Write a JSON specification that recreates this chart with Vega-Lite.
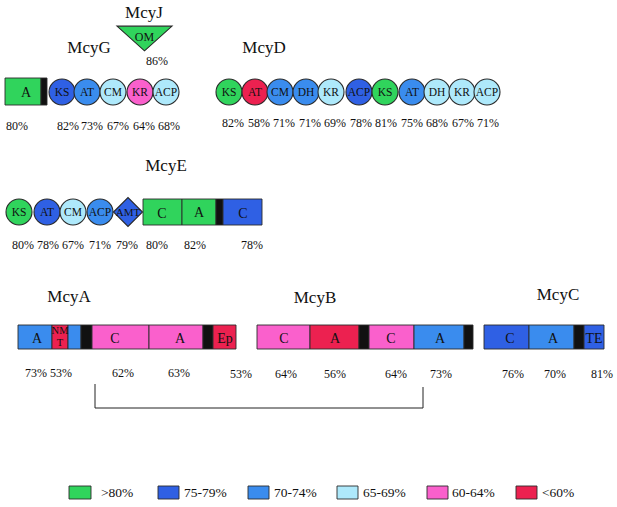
{
  "$schema": "https://vega.github.io/schema/vega-lite/v6.json",
  "width": 617,
  "height": 507,
  "padding": 0,
  "autosize": {"type": "none"},
  "background": "white",
  "config": {"view": {"stroke": null}, "text": {"font": "Liberation Serif", "color": "#111"}},
  "datasets": {
    "boxes": [
      {"x": 5, "x2": 41, "y": 78, "y2": 105, "c": ">80%"},
      {"x": 41, "x2": 47, "y": 78, "y2": 105, "c": "black"},
      {"x": 143, "x2": 182, "y": 199, "y2": 225, "c": ">80%"},
      {"x": 182, "x2": 216, "y": 199, "y2": 225, "c": ">80%"},
      {"x": 216, "x2": 223, "y": 199, "y2": 225, "c": "black"},
      {"x": 223, "x2": 262, "y": 199, "y2": 225, "c": "75-79%"},
      {"x": 18, "x2": 52, "y": 325, "y2": 349, "c": "70-74%"},
      {"x": 52, "x2": 68, "y": 325, "y2": 349, "c": "<60%"},
      {"x": 68, "x2": 81, "y": 325, "y2": 349, "c": "70-74%"},
      {"x": 81, "x2": 92, "y": 325, "y2": 349, "c": "black"},
      {"x": 92, "x2": 149, "y": 325, "y2": 349, "c": "60-64%"},
      {"x": 149, "x2": 203, "y": 325, "y2": 349, "c": "60-64%"},
      {"x": 203, "x2": 213, "y": 325, "y2": 349, "c": "black"},
      {"x": 213, "x2": 236, "y": 325, "y2": 349, "c": "<60%"},
      {"x": 257, "x2": 310, "y": 325, "y2": 349, "c": "60-64%"},
      {"x": 310, "x2": 359, "y": 325, "y2": 349, "c": "<60%"},
      {"x": 359, "x2": 369, "y": 325, "y2": 349, "c": "black"},
      {"x": 369, "x2": 414, "y": 325, "y2": 349, "c": "60-64%"},
      {"x": 414, "x2": 464, "y": 325, "y2": 349, "c": "70-74%"},
      {"x": 464, "x2": 473, "y": 325, "y2": 349, "c": "black"},
      {"x": 484, "x2": 529, "y": 325, "y2": 349, "c": "75-79%"},
      {"x": 529, "x2": 574, "y": 325, "y2": 349, "c": "70-74%"},
      {"x": 574, "x2": 584, "y": 325, "y2": 349, "c": "black"},
      {"x": 584, "x2": 604, "y": 325, "y2": 349, "c": "75-79%"},
      {"x": 69, "x2": 91, "y": 486, "y2": 499, "c": ">80%"},
      {"x": 158, "x2": 179, "y": 486, "y2": 499, "c": "75-79%"},
      {"x": 248, "x2": 269, "y": 486, "y2": 499, "c": "70-74%"},
      {"x": 337, "x2": 358, "y": 486, "y2": 499, "c": "65-69%"},
      {"x": 427, "x2": 448, "y": 486, "y2": 499, "c": "60-64%"},
      {"x": 516, "x2": 537, "y": 486, "y2": 499, "c": "<60%"}
    ],
    "circles": [
      {"x": 62, "y": 92, "c": "75-79%", "t": "KS"},
      {"x": 87, "y": 92, "c": "70-74%", "t": "AT"},
      {"x": 113, "y": 92, "c": "65-69%", "t": "CM"},
      {"x": 140, "y": 92, "c": "60-64%", "t": "KR"},
      {"x": 166, "y": 92, "c": "65-69%", "t": "ACP"},
      {"x": 229, "y": 92, "c": ">80%", "t": "KS"},
      {"x": 255, "y": 92, "c": "<60%", "t": "AT"},
      {"x": 280, "y": 92, "c": "70-74%", "t": "CM"},
      {"x": 306, "y": 92, "c": "70-74%", "t": "DH"},
      {"x": 331, "y": 92, "c": "65-69%", "t": "KR"},
      {"x": 359, "y": 92, "c": "75-79%", "t": "ACP"},
      {"x": 385, "y": 92, "c": ">80%", "t": "KS"},
      {"x": 412, "y": 92, "c": "70-74%", "t": "AT"},
      {"x": 437, "y": 92, "c": "65-69%", "t": "DH"},
      {"x": 462, "y": 92, "c": "65-69%", "t": "KR"},
      {"x": 487, "y": 92, "c": "65-69%", "t": "ACP"},
      {"x": 19, "y": 212, "c": ">80%", "t": "KS"},
      {"x": 47, "y": 212, "c": "75-79%", "t": "AT"},
      {"x": 73, "y": 212, "c": "65-69%", "t": "CM"},
      {"x": 100, "y": 212, "c": "70-74%", "t": "ACP"}
    ],
    "diamond": [{"x": 128, "y": 212, "c": "75-79%", "t": "AMT"}],
    "tri": [{"x": 144.5, "y": 38.5, "c": ">80%", "t": "OM"}],
    "boxlabels": [
      {"x": 26, "y": 92, "t": "A"},
      {"x": 162, "y": 213, "t": "C"},
      {"x": 199, "y": 212, "t": "A"},
      {"x": 243, "y": 213, "t": "C"},
      {"x": 37, "y": 338, "t": "A"},
      {"x": 115, "y": 338, "t": "C"},
      {"x": 180, "y": 338, "t": "A"},
      {"x": 225, "y": 338, "t": "Ep"},
      {"x": 284, "y": 338, "t": "C"},
      {"x": 335, "y": 338, "t": "A"},
      {"x": 391, "y": 338, "t": "C"},
      {"x": 440, "y": 338, "t": "A"},
      {"x": 510, "y": 338, "t": "C"},
      {"x": 553, "y": 338, "t": "A"},
      {"x": 594, "y": 338, "t": "TE"}
    ],
    "smalllabels": [
      {"x": 60, "y": 331, "t": "NM"},
      {"x": 60, "y": 343, "t": "T"}
    ],
    "pcts": [
      {"x": 157, "y": 61, "t": "86%"},
      {"x": 17, "y": 126, "t": "80%"},
      {"x": 68, "y": 126, "t": "82%"},
      {"x": 92, "y": 126, "t": "73%"},
      {"x": 118, "y": 126, "t": "67%"},
      {"x": 144, "y": 126, "t": "64%"},
      {"x": 169, "y": 126, "t": "68%"},
      {"x": 233, "y": 123, "t": "82%"},
      {"x": 259, "y": 123, "t": "58%"},
      {"x": 284, "y": 123, "t": "71%"},
      {"x": 310, "y": 123, "t": "71%"},
      {"x": 335, "y": 123, "t": "69%"},
      {"x": 361, "y": 123, "t": "78%"},
      {"x": 386, "y": 123, "t": "81%"},
      {"x": 412, "y": 123, "t": "75%"},
      {"x": 437, "y": 123, "t": "68%"},
      {"x": 463, "y": 123, "t": "67%"},
      {"x": 488, "y": 123, "t": "71%"},
      {"x": 23, "y": 245, "t": "80%"},
      {"x": 48, "y": 245, "t": "78%"},
      {"x": 73, "y": 245, "t": "67%"},
      {"x": 100, "y": 245, "t": "71%"},
      {"x": 127, "y": 245, "t": "79%"},
      {"x": 157, "y": 245, "t": "80%"},
      {"x": 195, "y": 245, "t": "82%"},
      {"x": 252, "y": 245, "t": "78%"},
      {"x": 36, "y": 373, "t": "73%"},
      {"x": 61, "y": 373, "t": "53%"},
      {"x": 123, "y": 373, "t": "62%"},
      {"x": 179, "y": 373, "t": "63%"},
      {"x": 241, "y": 374, "t": "53%"},
      {"x": 286, "y": 374, "t": "64%"},
      {"x": 335, "y": 374, "t": "56%"},
      {"x": 396, "y": 374, "t": "64%"},
      {"x": 441, "y": 374, "t": "73%"},
      {"x": 513, "y": 374, "t": "76%"},
      {"x": 555, "y": 374, "t": "70%"},
      {"x": 602, "y": 374, "t": "81%"}
    ],
    "titles": [
      {"x": 144, "y": 13, "t": "McyJ"},
      {"x": 89, "y": 48, "t": "McyG"},
      {"x": 264, "y": 48, "t": "McyD"},
      {"x": 166, "y": 166, "t": "McyE"},
      {"x": 69, "y": 297, "t": "McyA"},
      {"x": 315, "y": 298, "t": "McyB"},
      {"x": 558, "y": 295, "t": "McyC"}
    ],
    "bracket": [
      {"x": 95, "y": 384, "o": 1},
      {"x": 95, "y": 408, "o": 2},
      {"x": 423, "y": 408, "o": 3},
      {"x": 423, "y": 387, "o": 4}
    ],
    "legendtext": [
      {"x": 101, "y": 493, "t": ">80%"},
      {"x": 184, "y": 493, "t": "75-79%"},
      {"x": 274, "y": 493, "t": "70-74%"},
      {"x": 363, "y": 493, "t": "65-69%"},
      {"x": 452, "y": 493, "t": "60-64%"},
      {"x": 542, "y": 493, "t": "<60%"}
    ]
  },
  "encoding": {
    "x": {"field": "x", "type": "quantitative", "scale": {"domain": [0, 617], "nice": false, "zero": false}, "axis": null},
    "y": {"field": "y", "type": "quantitative", "scale": {"domain": [0, 507], "reverse": true, "nice": false, "zero": false}, "axis": null}
  },
  "layer": [
    {
      "data": {"name": "boxes"},
      "mark": {"type": "rect", "stroke": "#2a2a2a", "strokeWidth": 0.9},
      "encoding": {
        "x2": {"field": "x2"},
        "y2": {"field": "y2"},
        "color": {"field": "c", "type": "nominal", "legend": null,
          "scale": {"domain": [">80%", "75-79%", "70-74%", "65-69%", "60-64%", "<60%", "black"],
                    "range": ["#30d45c", "#2f60e4", "#3a8cee", "#aee9fb", "#fa60cc", "#ec2150", "#111111"]}}
      }
    },
    {
      "data": {"name": "bracket"},
      "mark": {"type": "line", "color": "#222", "strokeWidth": 1},
      "encoding": {"order": {"field": "o"}}
    },
    {
      "data": {"name": "circles"},
      "mark": {"type": "point", "shape": "circle", "filled": true, "opacity": 1, "size": 676, "stroke": "#2a2a2a", "strokeWidth": 1.1},
      "encoding": {"color": {"field": "c", "type": "nominal", "legend": null}}
    },
    {
      "data": {"name": "diamond"},
      "mark": {"type": "point", "shape": "diamond", "filled": true, "opacity": 1, "size": 841, "stroke": "#2a2a2a", "strokeWidth": 1.1},
      "encoding": {"color": {"field": "c", "type": "nominal", "legend": null}}
    },
    {
      "data": {"name": "tri"},
      "mark": {"type": "point", "shape": "M-1,-0.45L1,-0.45L0,0.45Z", "filled": true, "opacity": 1, "size": 3025, "stroke": "#2a2a2a", "strokeWidth": 1.1},
      "encoding": {"color": {"field": "c", "type": "nominal", "legend": null}}
    },
    {
      "data": {"name": "circles"},
      "mark": {"type": "text", "fontSize": 11.5, "baseline": "middle", "align": "center", "dy": 1},
      "encoding": {"text": {"field": "t"}}
    },
    {
      "data": {"name": "diamond"},
      "mark": {"type": "text", "fontSize": 11, "baseline": "middle", "align": "center", "dy": 1},
      "encoding": {"text": {"field": "t"}}
    },
    {
      "data": {"name": "tri"},
      "mark": {"type": "text", "fontSize": 12, "baseline": "middle", "align": "center", "dy": -2},
      "encoding": {"text": {"field": "t"}}
    },
    {
      "data": {"name": "boxlabels"},
      "mark": {"type": "text", "fontSize": 14, "baseline": "middle", "align": "center", "dy": 1},
      "encoding": {"text": {"field": "t"}}
    },
    {
      "data": {"name": "smalllabels"},
      "mark": {"type": "text", "fontSize": 10.5, "baseline": "middle", "align": "center"},
      "encoding": {"text": {"field": "t"}}
    },
    {
      "data": {"name": "pcts"},
      "mark": {"type": "text", "fontSize": 12, "baseline": "middle", "align": "center"},
      "encoding": {"text": {"field": "t"}}
    },
    {
      "data": {"name": "titles"},
      "mark": {"type": "text", "fontSize": 17, "baseline": "middle", "align": "center"},
      "encoding": {"text": {"field": "t"}}
    },
    {
      "data": {"name": "legendtext"},
      "mark": {"type": "text", "fontSize": 13.5, "baseline": "middle", "align": "left"},
      "encoding": {"text": {"field": "t"}}
    }
  ]
}
